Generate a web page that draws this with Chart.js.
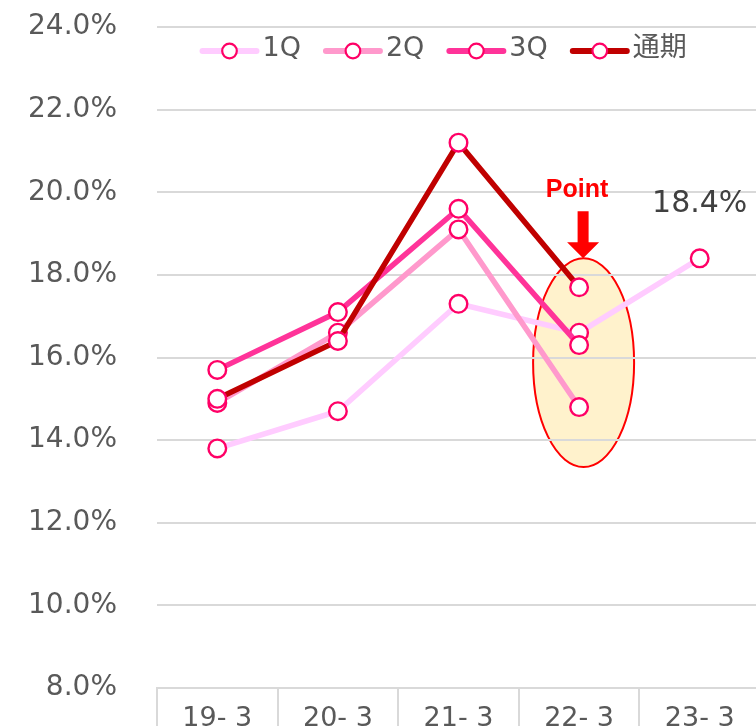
<!DOCTYPE html>
<html lang="ja">
<head>
<meta charset="UTF-8">
<title>四半期別 推移</title>
<script src="https://cdn.jsdelivr.net/npm/chart.js"></script>
<style>
  html, body { margin: 0; padding: 0; background: #fff; overflow: hidden; }
  canvas { display: block; }
</style>
</head>
<body>
<canvas id="ratioChart" width="760" height="726"></canvas>
<script>
// data
const categories = ['19- 3', '20- 3', '21- 3', '22- 3', '23- 3'];
const seriesNames = ['1Q', '2Q', '3Q', '通期'];
const q1 = [13.8, 14.7, 17.3, 16.6, 18.4];
const q2 = [14.9, 16.6, 19.1, 14.8, null];
const q3 = [15.7, 17.1, 19.6, 16.3, null];
const fullYear = [15.0, 16.4, 21.2, 17.7, null];
const yMin = 8, yMax = 24, yStep = 2;
const calloutText = '18.4%';
const pointText = 'Point';
const highlightRange = [13.35, 18.4]; // y span of the ellipse round 22-3

const lineColors = ['#FFCCFF', '#FF99CC', '#FF3399', '#C00000'];
const markerColor = '#FF0066';
const textColor = '#595959';
const gridColor = '#D9D9D9';
const fontFamily = "'DejaVu Sans', Verdana, 'Noto Sans CJK JP', sans-serif";

const datasets = [q1, q2, q3, fullYear].map((d, i) => ({
    label: seriesNames[i],
    data: d,
    borderColor: lineColors[i],
    backgroundColor: lineColors[i],
    borderWidth: 5.5,
    pointRadius: 8.8,
    pointBorderWidth: 2.4,
    pointBackgroundColor: '#fff',
    pointBorderColor: markerColor,
    order: 3 - i,
    clip: false
}));

// ellipse under the grid, callouts and legend on top
const extras = {
    id: 'extras',
    beforeDraw(chart) {
        const {ctx, scales: {x, y}} = chart;
        const cx = x.getPixelForValue(3) + 4.5;
        const top = y.getPixelForValue(highlightRange[1]);
        const bottom = y.getPixelForValue(highlightRange[0]);
        ctx.save();
        ctx.beginPath();
        ctx.ellipse(cx, (top + bottom) / 2, 50.5, (bottom - top) / 2, 0, 0, Math.PI * 2);
        ctx.fillStyle = '#FFF2CC';
        ctx.fill();
        ctx.lineWidth = 2;
        ctx.strokeStyle = '#FF0000';
        ctx.stroke();
        ctx.restore();
    },
    afterDraw(chart) {
        const {ctx, chartArea, scales: {x, y}} = chart;
        ctx.save();

        // 18.4% label over the last 1Q point
        const last = chart.getDatasetMeta(0).data[4];
        ctx.fillStyle = '#404040';
        ctx.font = '30px ' + fontFamily;
        ctx.textAlign = 'center';
        ctx.textBaseline = 'middle';
        ctx.fillText(calloutText, last.x, last.y - 54);

        // Point + arrow
        const ax = x.getPixelForValue(3) + 4;
        const tip = y.getPixelForValue(highlightRange[1]);
        ctx.fillStyle = '#FF0000';
        ctx.beginPath();
        ctx.moveTo(ax - 5.5, tip - 47);
        ctx.lineTo(ax + 5.5, tip - 47);
        ctx.lineTo(ax + 5.5, tip - 16);
        ctx.lineTo(ax + 16, tip - 16);
        ctx.lineTo(ax, tip);
        ctx.lineTo(ax - 16, tip - 16);
        ctx.lineTo(ax - 5.5, tip - 16);
        ctx.closePath();
        ctx.fill();
        ctx.font = "bold 25px 'Liberation Sans', Arial, sans-serif";
        ctx.textBaseline = 'alphabetic';
        ctx.fillText(pointText, ax - 6, tip - 61);

        // legend
        ctx.font = '27px ' + fontFamily;
        ctx.textAlign = 'left';
        ctx.textBaseline = 'middle';
        let lx = chartArea.left + 43.5;
        const ly = chartArea.top + 24;
        chart.data.datasets.forEach(ds => {
            ctx.strokeStyle = ds.borderColor;
            ctx.lineWidth = 6;
            ctx.lineCap = 'round';
            ctx.beginPath();
            ctx.moveTo(lx + 2, ly);
            ctx.lineTo(lx + 56, ly);
            ctx.stroke();
            ctx.beginPath();
            ctx.arc(lx + 29, ly, 7.3, 0, Math.PI * 2);
            ctx.fillStyle = '#fff';
            ctx.fill();
            ctx.lineWidth = 2.2;
            ctx.strokeStyle = markerColor;
            ctx.stroke();
            ctx.fillStyle = textColor;
            ctx.fillText(ds.label, lx + 62, ly - 2);
            lx += 62 + ctx.measureText(ds.label).width + 23;
        });
        ctx.restore();
    }
};

const ctx = document.getElementById('ratioChart').getContext('2d');
const ratioChart = new Chart(ctx, {
    type: 'line',
    data: { labels: categories, datasets: datasets },
    options: {
        responsive: false,
        animation: false,
        devicePixelRatio: 1,
        layout: { autoPadding: false, padding: { top: 27, right: 0, bottom: 0, left: 0 } },
        plugins: { legend: { display: false }, tooltip: { enabled: false } },
        scales: {
            x: {
                offset: true,
                afterFit(s) {
                    s.height = 38;
                    s.paddingLeft = 0; s.paddingRight = 0;
                    s.paddingTop = 0; s.paddingBottom = 0;
                },
                border: { display: true, color: gridColor, width: 2 },
                grid: { offset: true, drawOnChartArea: false, drawTicks: true, tickLength: 38, color: gridColor, lineWidth: 2 },
                ticks: { color: textColor, font: { family: fontFamily, size: 27 }, padding: -23, maxRotation: 0 }
            },
            y: {
                min: yMin,
                max: yMax,
                afterFit(s) {
                    s.width = 157;
                    s.paddingLeft = 0; s.paddingRight = 0;
                    s.paddingTop = 0; s.paddingBottom = 0;
                },
                border: { display: false },
                grid: { color: gridColor, lineWidth: 2, drawTicks: false },
                ticks: {
                    stepSize: yStep,
                    padding: 40,
                    color: textColor,
                    font: { family: fontFamily, size: 28 },
                    callback: v => v.toFixed(1) + '%'
                }
            }
        }
    },
    plugins: [extras]
});
</script>
</body>
</html>
